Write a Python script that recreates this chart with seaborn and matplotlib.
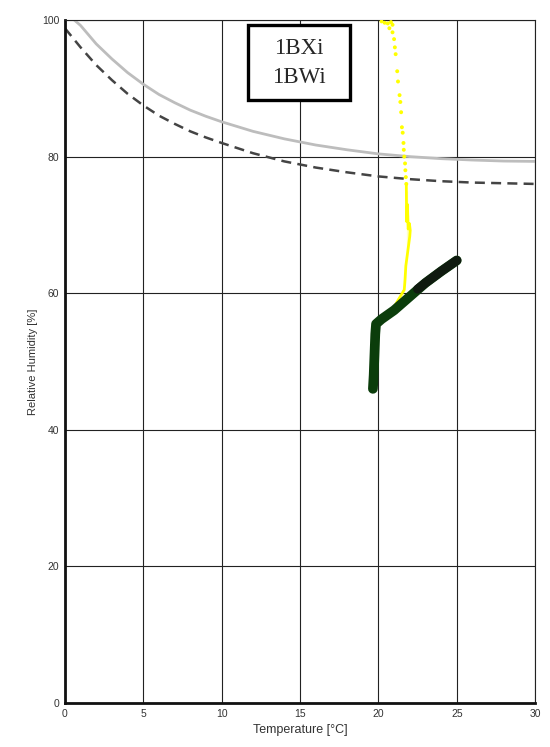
import numpy as np
import pandas as pd
import matplotlib
matplotlib.use("Agg")
import matplotlib.pyplot as plt
import matplotlib.patches as mpatches
import seaborn as sns

# reference curves (grey solid / grey dashed)
curve_t = [0.6, 1, 2, 3, 4, 5, 6, 7, 8, 9, 10, 12, 14, 16, 18, 20, 22, 24, 26, 28, 30]
curve_solid = [100.0, 99.2, 96.5, 94.3, 92.3, 90.6, 89.1, 87.9, 86.8, 85.9, 85.1,
               83.7, 82.6, 81.7, 81.0, 80.4, 80.0, 79.7, 79.5, 79.35, 79.3]
dash_t = [0, 1, 2, 3, 4, 5, 6, 7, 8, 9, 10, 12, 14, 16, 18, 20, 22, 24, 26, 28, 30]
curve_dashed = [98.8, 96.0, 93.4, 91.2, 89.2, 87.5, 86.0, 84.8, 83.7, 82.8, 82.0,
                80.5, 79.3, 78.4, 77.7, 77.1, 76.7, 76.4, 76.2, 76.1, 76.0]

# 1BXi (yellow)
bx_t = [20.2, 20.4, 20.6, 20.8, 20.9, 20.7, 20.9, 21.0, 21.05, 21.1,
        21.2, 21.25, 21.35, 21.4, 21.45, 21.5, 21.55, 21.6, 21.62, 21.65,
        21.7, 21.72, 21.75, 21.78]
bx_rh = [99.8, 99.6, 99.5, 99.7, 99.3, 98.8, 98.2, 97.2, 96.0, 95.0,
         92.5, 91.0, 89.0, 88.0, 86.5, 84.3, 83.5, 82.0, 81.0, 80.0,
         79.0, 78.0, 77.0, 76.0]
bx_line_t = [21.78, 21.8, 21.85, 21.9, 21.98, 22.03, 22.0, 21.9, 21.8, 21.75, 21.7, 21.65, 21.0, 20.3]
bx_line_rh = [76.0, 75.0, 73.0, 71.5, 70.2, 69.2, 68.3, 67.3, 66.0, 64.0, 62.0, 60.5, 58.0, 56.5]

# 1BWi (dark green)
bw_t = [19.65, 19.7, 19.75, 19.75, 19.8, 19.85, 20.2, 21.0, 22.0, 23.0, 24.0, 25.0]
bw_rh = [46.0, 48.0, 50.0, 52.0, 54.0, 55.5, 56.2, 57.5, 59.5, 61.5, 63.2, 64.8]
bw_dark_t = [22.5, 23.0, 24.0, 25.0]
bw_dark_rh = [60.6, 61.5, 63.2, 64.8]

x_ticks = [0, 5, 10, 15, 20, 25, 30]
y_ticks = [0, 20, 40, 60, 80, 100]

sns.set_style("white")
plt.rcParams["font.family"] = ["Liberation Sans", "DejaVu Sans"]

fig = plt.figure(figsize=(5.5, 7.47), dpi=100)
ax = fig.add_axes([0.118, 0.0589, 0.855, 0.9143])

for v in x_ticks:
    ax.axvline(v, color="#222222", lw=0.8, zorder=0)
for v in y_ticks:
    ax.axhline(v, color="#222222", lw=0.8, zorder=0)

sns.lineplot(x=curve_t, y=curve_solid, ax=ax, color="#bdbdbd", lw=2, sort=False)
sns.lineplot(x=dash_t, y=curve_dashed, ax=ax, color="#444444", lw=1.8,
             linestyle=(0, (4, 2.5)), sort=False)

sns.scatterplot(x=bx_t, y=bx_rh, ax=ax, color="#ffff00", s=8, edgecolor="none", zorder=3)
sns.lineplot(x=bx_line_t, y=bx_line_rh, ax=ax, color="#ffff00", lw=2.0, sort=False, zorder=3)

sns.lineplot(x=bw_t, y=bw_rh, ax=ax, color="#0b3d0b", lw=7, sort=False, zorder=4)
sns.lineplot(x=bw_dark_t, y=bw_dark_rh, ax=ax, color="#0f1a0f", lw=6.5, sort=False, zorder=5)

ax.set_xlim(0, 30)
ax.set_ylim(0, 100)
ax.set_xticks(x_ticks)
ax.set_yticks(y_ticks)
ax.tick_params(labelsize=7.5, colors="#333333", length=0, pad=4)
ax.set_xlabel("Temperature [°C]", fontsize=9, color="#333333", labelpad=4)
ax.set_ylabel("Relative Humidity [%]", fontsize=8, color="#333333", labelpad=3)

for side in ["left", "bottom"]:
    ax.spines[side].set_linewidth(2)
    ax.spines[side].set_color("#111111")
for side in ["top", "right"]:
    ax.spines[side].set_linewidth(0.8)
    ax.spines[side].set_color("#222222")

# label box
ax.add_patch(mpatches.Rectangle((0.389, 0.883), 0.217, 0.11, transform=ax.transAxes,
                                fc="white", ec="black", lw=2.4, zorder=6))
ax.text(0.498, 0.937, "1BXi\n1BWi", transform=ax.transAxes, ha="center", va="center",
        fontsize=16.5, family=["Liberation Serif", "DejaVu Serif"], linespacing=1.45, zorder=7)

fig.savefig("out.png", dpi=100)
